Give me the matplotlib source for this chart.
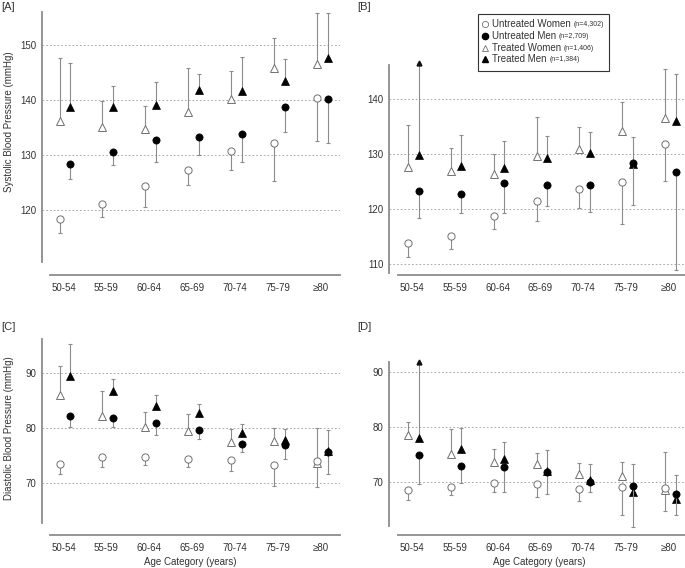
import matplotlib
matplotlib.use('Agg')
import matplotlib.pyplot as plt
import numpy as np
from matplotlib.patches import Rectangle

plt.rcParams['font.family'] = ['Liberation Sans', 'DejaVu Sans']

categories = ['50-54', '55-59', '60-64', '65-69', '70-74', '75-79', '≥80']

# Panel A: systolic, total
A_uw = [118.4, 121.1, 124.3, 127.2, 130.8, 132.2, 140.4]
A_uw_bar = [115.8, 118.7, 120.6, 124.5, 127.2, 125.2, 132.6]
A_um = [128.4, 130.6, 132.7, 133.3, 133.8, 138.8, 140.2]
A_um_bar = [125.6, 128.2, 128.8, 130.0, 128.8, 134.1, 132.1]
A_tw = [136.2, 135.0, 134.8, 137.9, 140.1, 145.9, 146.5]
A_tw_bar = [147.6, 139.9, 138.9, 145.8, 145.3, 151.2, 155.9]
A_tm = [138.7, 138.7, 139.1, 141.8, 141.7, 143.4, 147.6]
A_tm_bar = [146.7, 142.5, 143.3, 144.8, 147.9, 147.4, 155.8]

# Panel B: systolic
B_uw = [113.8, 115.2, 118.8, 121.5, 123.7, 125.0, 131.8]
B_uw_bar = [111.3, 112.8, 116.4, 117.9, 120.2, 117.3, 125.2]
B_um = [123.3, 122.7, 124.8, 124.5, 124.5, 128.5, 126.7]
B_um_bar = [118.5, 119.3, 119.4, 120.6, 119.5, 120.8, 109.0]
B_tw = [127.7, 127.0, 126.4, 129.7, 131.0, 134.2, 136.7]
B_tw_bar = [135.3, 131.2, 130.0, 136.8, 134.9, 139.6, 145.6]
B_tm = [129.9, 127.9, 127.5, 129.4, 130.2, 128.3, 136.0]
B_tm_bar = [146.7, 133.6, 132.4, 133.3, 134.1, 133.1, 144.6]
B_tm_trunc = [True, False, False, False, False, False, False]

# Panel C: diastolic
C_uw = [73.5, 74.7, 74.8, 74.4, 74.2, 73.4, 74.1]
C_uw_bar = [71.7, 73.0, 73.3, 72.9, 72.2, 69.5, 80.0]
C_um = [82.3, 81.9, 81.0, 79.6, 77.2, 77.0, 75.7]
C_um_bar = [80.3, 80.3, 78.7, 78.1, 75.6, 74.4, 71.7]
C_tw = [86.1, 82.3, 80.2, 79.5, 77.5, 77.6, 73.6]
C_tw_bar = [91.3, 86.7, 83.0, 82.5, 79.8, 80.1, 69.4]
C_tm = [89.5, 86.7, 84.1, 82.7, 79.2, 77.9, 75.9]
C_tm_bar = [95.3, 89.0, 86.0, 84.4, 80.8, 79.9, 79.7]

# Panel D: diastolic
D_uw = [68.6, 69.1, 69.8, 69.7, 68.7, 69.2, 68.9]
D_uw_bar = [66.7, 67.7, 68.2, 67.3, 66.5, 64.0, 75.5]
D_um = [74.9, 73.0, 72.8, 71.8, 70.1, 69.3, 67.9]
D_um_bar = [69.6, 69.8, 68.2, 67.8, 68.3, 61.8, 64.1]
D_tw = [78.5, 75.2, 73.7, 73.3, 71.5, 71.2, 68.5]
D_tw_bar = [81.0, 79.7, 76.0, 75.4, 73.5, 73.6, 64.7]
D_tm = [78.1, 76.1, 74.2, 72.1, 70.4, 68.3, 66.9]
D_tm_bar = [91.8, 79.8, 77.3, 75.8, 73.4, 73.3, 71.3]
D_tm_trunc = [True, False, False, False, False, False, False]

legend_labels = ['Untreated Women', 'Untreated Men', 'Treated Women', 'Treated Men']
legend_ns = ['(n=4,302)', '(n=2,709)', '(n=1,406)', '(n=1,384)']

W, H = 685, 568
fig = plt.figure(figsize=(W / 100, H / 100), dpi=100)

TXT = '#333333'
SPINE = '#8c8c8c'
ECOL = '#8c8c8c'
OPEN_EDGE = '#707070'

def add_ax(x0, x1, ytop, ybot):
    return fig.add_axes([x0 / W, 1 - ybot / H, (x1 - x0) / W, (ybot - ytop) / H])

def series(ax, x, mean, bar, marker, filled, ms, z, trunc=None):
    mean = np.asarray(mean); bar = np.asarray(bar)
    lo = np.clip(mean - bar, 0, None)
    hi = np.clip(bar - mean, 0, None)
    ax.errorbar(x, mean, yerr=[lo, hi], fmt='none', ecolor=ECOL, elinewidth=0.8,
                capsize=1.6, capthick=0.8, zorder=z, clip_on=False)
    if filled:
        ax.plot(x, mean, ls='none', marker=marker, ms=ms, mfc='black', mec='black',
                mew=0.5, zorder=z + 0.5, clip_on=False)
    else:
        ax.plot(x, mean, ls='none', marker=marker, ms=ms, mfc='white', mec=OPEN_EDGE,
                mew=0.7, zorder=z + 0.5, clip_on=False)
    if trunc is not None:
        t = np.asarray(trunc)
        ax.plot(np.asarray(x)[t], bar[t], ls='none', marker='^', ms=3.5, color='#111111',
                zorder=z + 0.6, clip_on=False)

def panel(box, xlim, ylim, yticks, lbounds, bbounds, data):
    ax = add_ax(*box)
    idx = np.arange(len(categories))
    xw = idx - 0.09
    xm = idx + 0.16
    uw, uwb, um, umb, tw, twb, tm, tmb, trunc = data
    series(ax, xw, tw, twb, '^', False, 5.8, 3)
    series(ax, xm, tm, tmb, '^', True, 5.8, 4, trunc)
    series(ax, xw, uw, uwb, 'o', False, 5.2, 5)
    series(ax, xm, um, umb, 'o', True, 5.2, 6)
    ax.set_xlim(*xlim)
    ax.set_ylim(*ylim)
    ax.set_xticks(idx)
    ax.set_xticklabels(categories)
    ax.set_yticks(yticks)
    ax.tick_params(length=0, labelsize=7, labelcolor=TXT)
    ax.tick_params(axis='x', pad=5.5)
    ax.tick_params(axis='y', pad=4)
    for s in ['top', 'right']:
        ax.spines[s].set_visible(False)
    ax.spines['left'].set_bounds(*lbounds)
    ax.spines['bottom'].set_bounds(*bbounds)
    for s in ['left', 'bottom']:
        ax.spines[s].set_color(SPINE)
        ax.spines[s].set_linewidth(1.3)
    ax.yaxis.grid(True, linestyle=(0, (2, 2.5)), color='#9a9a9a', linewidth=0.6)
    ax.set_axisbelow(True)
    ax.patch.set_alpha(0)
    return ax

panel((42, 340, 12, 275), (-0.50, 6.45), (108.18, 156.0), [120, 130, 140, 150],
      (110.6, 156.0), (-0.31, 6.45),
      (A_uw, A_uw_bar, A_um, A_um_bar, A_tw, A_tw_bar, A_tm, A_tm_bar, None))
panel((389, 685, 12, 275), (-0.53, 6.37), (108.05, 155.9), [110, 120, 130, 140],
      (108.4, 146.2), (-0.32, 6.37),
      (B_uw, B_uw_bar, B_um, B_um_bar, B_tw, B_tw_bar, B_tm, B_tm_bar, B_tm_trunc))
panel((42, 340, 339, 535), (-0.50, 6.45), (60.6, 96.2), [70, 80, 90],
      (62.7, 96.2), (-0.31, 6.45),
      (C_uw, C_uw_bar, C_um, C_um_bar, C_tw, C_tw_bar, C_tm, C_tm_bar, None))
panel((389, 685, 339, 535), (-0.53, 6.37), (60.4, 96.05), [70, 80, 90],
      (62.0, 91.8), (-0.32, 6.37),
      (D_uw, D_uw_bar, D_um, D_um_bar, D_tw, D_tw_bar, D_tm, D_tm_bar, D_tm_trunc))

def ftext(x, y, s, **kw):
    fig.text(x / W, 1 - y / H, s, color=TXT, **kw)

ftext(1, 7, '[A]', fontsize=8, ha='left', va='center')
ftext(357, 7, '[B]', fontsize=8, ha='left', va='center')
ftext(1, 327, '[C]', fontsize=8, ha='left', va='center')
ftext(357, 327, '[D]', fontsize=8, ha='left', va='center')
ftext(9, 122, 'Systolic Blood Pressure (mmHg)', fontsize=7, rotation=90, ha='center', va='center')
ftext(9, 428, 'Diastolic Blood Pressure (mmHg)', fontsize=7, rotation=90, ha='center', va='center')
ftext(190, 562, 'Age Category (years)', fontsize=7, ha='center', va='center')
ftext(539, 562, 'Age Category (years)', fontsize=7, ha='center', va='center')

# legend overlay
lg = fig.add_axes([0, 0, 1, 1], zorder=10)
lg.set_xlim(0, W); lg.set_ylim(H, 0); lg.axis('off'); lg.patch.set_alpha(0)
lg.add_patch(Rectangle((478, 14), 131, 57, facecolor='white', edgecolor='#333333', lw=0.8))
styles = [('o', False), ('o', True), ('^', False), ('^', True)]
rows = [24, 36, 48, 59]
for (mk, filled), yy, lab, n in zip(styles, rows, legend_labels, legend_ns):
    if filled:
        lg.plot([485], [yy], marker=mk, ms=4.5, mfc='black', mec='black', ls='none')
    else:
        lg.plot([485], [yy], marker=mk, ms=4.5, mfc='white', mec=OPEN_EDGE, mew=0.6, ls='none')
    t = lg.text(492, yy, lab, fontsize=7, color=TXT, ha='left', va='center')
    lg.annotate(n, xy=(1, 0.5), xycoords=t, xytext=(2, -0.3), textcoords='offset points',
                fontsize=5, color=TXT, ha='left', va='center')

fig.savefig('out.png', dpi=100)
